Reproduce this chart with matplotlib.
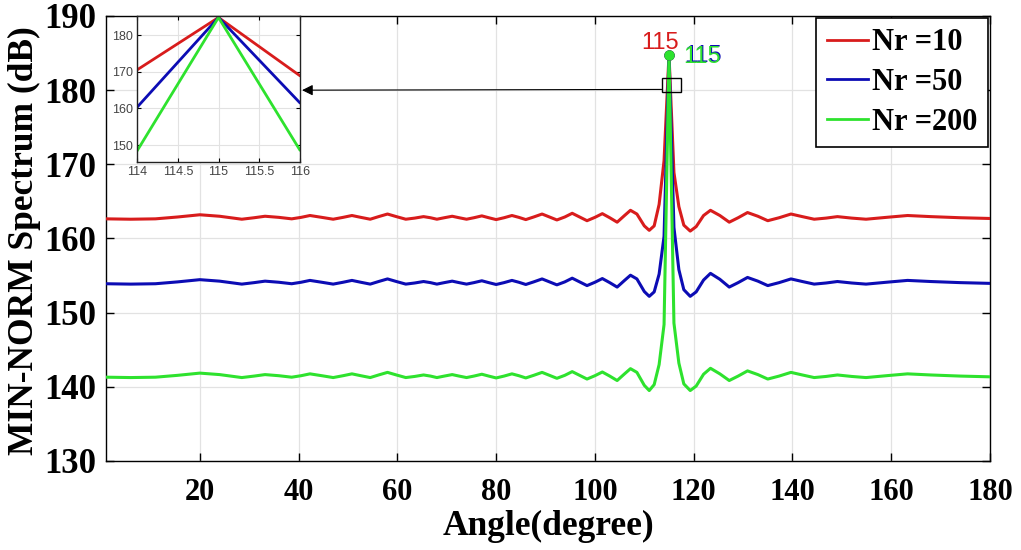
import matplotlib
matplotlib.use("Agg")
import matplotlib.pyplot as plt
from matplotlib.patches import Rectangle

# ---------------- data ----------------
angles = [1, 6, 11, 15.5, 20, 24, 28.5, 31, 33.2, 36,
          38.6, 40.5, 42.3, 44.7, 47, 49, 50.8, 52.6, 54.5, 56.2,
          58, 59.8, 61.7, 63.5, 65.3, 66.7, 68, 69.5, 71.1, 72.5,
          74, 75.5, 77.1, 78.5, 80, 81.6, 83.2, 84.6, 86, 87.6,
          89.3, 90.8, 92.3, 93.9, 95.4, 96.9, 98.4, 100, 101.5, 103,
          104.5, 106, 107.2, 108.5, 110, 111, 112, 113, 114, 115,
          116, 117, 118, 119.3, 120.5, 122, 123.4, 125.3, 127.2, 129,
          130.9, 133, 135, 137.3, 139.7, 142, 144.4, 146.8, 149.1, 152,
          154.9, 159, 163.3, 168, 174, 180]

nr10 = [162.65, 162.6, 162.65, 162.9, 163.2, 163.0, 162.6, 162.8, 163.0, 162.85,
        162.65, 162.85, 163.1, 162.85, 162.6, 162.85, 163.1, 162.85, 162.6, 162.95,
        163.3, 162.95, 162.6, 162.75, 162.95, 162.8, 162.6, 162.8, 163.0, 162.8,
        162.6, 162.8, 163.05, 162.8, 162.55, 162.8, 163.1, 162.85, 162.55, 162.9,
        163.3, 162.9, 162.5, 162.9, 163.4, 162.9, 162.4, 162.85, 163.35, 162.8,
        162.2, 163.1, 163.8, 163.3, 161.7, 161.1, 161.7, 164.6, 170.5, 184.8,
        168.9, 164.3, 161.8, 161.0, 161.6, 163.1, 163.8, 163.1, 162.2, 162.8,
        163.5, 163.0, 162.4, 162.8, 163.3, 162.95, 162.6, 162.75, 162.95, 162.75,
        162.6, 162.85, 163.1, 162.95, 162.8, 162.7]

nr50 = [153.90, 153.85, 153.90, 154.15, 154.45, 154.25, 153.85, 154.05, 154.25, 154.10,
        153.90, 154.10, 154.35, 154.10, 153.85, 154.10, 154.35, 154.10, 153.85, 154.20,
        154.55, 154.20, 153.85, 154.00, 154.20, 154.05, 153.85, 154.05, 154.25, 154.05,
        153.85, 154.05, 154.30, 154.05, 153.80, 154.05, 154.35, 154.10, 153.80, 154.15,
        154.55, 154.15, 153.75, 154.15, 154.65, 154.15, 153.65, 154.10, 154.60, 154.05,
        153.45, 154.35, 155.05, 154.55, 152.85, 152.2, 152.8, 155.2, 160.3, 184.8,
        161.5, 155.8, 153.1, 152.2, 152.8, 154.4, 155.3, 154.5, 153.45, 154.05,
        154.75, 154.25, 153.65, 154.05, 154.55, 154.2, 153.85, 154.0, 154.2, 154.0,
        153.85, 154.1, 154.35, 154.2, 154.05, 153.95]

nr200 = [141.30, 141.25, 141.30, 141.55, 141.85, 141.65, 141.25, 141.45, 141.65, 141.50,
         141.30, 141.50, 141.75, 141.50, 141.25, 141.50, 141.75, 141.50, 141.25, 141.60,
         141.95, 141.60, 141.25, 141.40, 141.60, 141.45, 141.25, 141.45, 141.65, 141.45,
         141.25, 141.45, 141.70, 141.45, 141.20, 141.45, 141.75, 141.50, 141.20, 141.55,
         141.95, 141.55, 141.15, 141.55, 142.05, 141.55, 141.05, 141.50, 142.00, 141.45,
         140.85, 141.75, 142.45, 141.95, 140.2, 139.5, 140.3, 143.0, 148.4, 184.8,
         148.6, 143.2, 140.4, 139.5, 140.1, 141.7, 142.5, 141.75, 140.85, 141.45,
         142.15, 141.65, 141.05, 141.45, 141.95, 141.6, 141.25, 141.4, 141.6, 141.4,
         141.25, 141.5, 141.75, 141.6, 141.45, 141.35]

labels = ["Nr =10", "Nr =50", "Nr =200"]
peak_angle = 115
peak_value = 184.8

x_ticks = [20, 40, 60, 80, 100, 120, 140, 160, 180]
y_ticks = [130, 140, 150, 160, 170, 180, 190]
inset_xticks = [114, 114.5, 115, 115.5, 116]
inset_xticklabels = ["114", "114.5", "115", "115.5", "116"]
inset_yticks = [150, 160, 170, 180]

colors = ["#d81c1c", "#0c0cb4", "#2ee22e"]
series = [nr10, nr50, nr200]

# ---------------- figure ----------------
fig = plt.figure(figsize=(10.21, 5.5), dpi=100)
ax = fig.add_axes([106 / 1021, (550 - 461) / 550, 884 / 1021, 445 / 550])

serif = "Liberation Serif"
sans = "Liberation Sans"

for vals, c, lab in zip(series, colors, labels):
    ax.plot(angles, vals, color=c, lw=2.2, label=lab, zorder=3,
            solid_joinstyle="round")

# peak markers
for c in colors:
    ax.plot([peak_angle], [peak_value], "o", color=c, ms=6.5, zorder=4)

ax.set_xlim(1, 180)
ax.set_ylim(130, 190)
ax.set_xticks(x_ticks)
ax.set_yticks(y_ticks)
ax.grid(True, color="#e2e2e2", lw=0.9, zorder=0)
ax.set_axisbelow(True)
ax.tick_params(direction="in", length=6, width=1, top=True, right=True)
ax.tick_params(axis="x", labelsize=22, pad=12)
ax.tick_params(axis="y", labelsize=25, pad=7)
for lbl in ax.get_xticklabels() + ax.get_yticklabels():
    lbl.set_fontfamily(serif)
    lbl.set_fontweight("bold")
for sp in ax.spines.values():
    sp.set_linewidth(1.0)
    sp.set_color("black")

ax.set_xlabel("Angle(degree)", fontsize=25.5, fontweight="bold", family=serif,
              va="center")
ax.xaxis.set_label_coords(0.5, -65 / 445)
ax.set_ylabel("MIN-NORM Spectrum (dB)", fontsize=25.5, fontweight="bold",
              family=serif, va="center")
ax.yaxis.set_label_coords((24 - 106) / 884, 0.495)

# peak labels
ax.text(113.1, 186.3, "115", color=colors[0], fontsize=17, family=sans,
        ha="center", va="center", zorder=5)
ax.text(121.85, 184.6, "115", color=colors[1], fontsize=17, family=sans,
        ha="center", va="center", zorder=5)
ax.text(121.7, 184.45, "115", color=colors[2], fontsize=17, family=sans,
        ha="center", va="center", zorder=6)

# zoom rectangle and arrow
ax.add_patch(Rectangle((113.5, 179.8), 3.9, 1.8, fill=False, ec="black",
                       lw=1.0, zorder=6))
ax.annotate("", xy=(40.7, 180.0), xytext=(113.5, 180.1),
            arrowprops=dict(arrowstyle="-|>", color="black", lw=0.8,
                            mutation_scale=16, shrinkA=0, shrinkB=0),
            zorder=6)

leg = ax.legend(loc="upper right", bbox_to_anchor=(1.0, 1.0),
                borderaxespad=0.05, fancybox=False, framealpha=1,
                edgecolor="black", handlelength=1.35, handletextpad=0.15,
                labelspacing=0.35, borderpad=0.35,
                prop=dict(family=serif, weight="bold", size=22))
leg.get_frame().set_linewidth(1.2)
for h in leg.get_lines():
    h.set_linewidth(2.0)

# ---------------- inset ----------------
ins = fig.add_axes([137 / 1021, (550 - 162) / 550, 163 / 1021, 146 / 550])
for vals, c in zip(series, colors):
    ins.plot(angles, vals, color=c, lw=2.0)
ins.set_xlim(114, 116)
ins.set_ylim(145.4, 185.2)
ins.set_xticks(inset_xticks)
ins.set_xticklabels(inset_xticklabels)
ins.set_yticks(inset_yticks)
ins.grid(True, color="#e2e2e2", lw=0.8)
ins.tick_params(direction="in", length=3, labelsize=9, labelcolor="#444444",
                pad=3, top=True, right=True)
for lbl in ins.get_xticklabels() + ins.get_yticklabels():
    lbl.set_fontfamily(sans)
for sp in ins.spines.values():
    sp.set_linewidth(1.0)
    sp.set_color("#222222")

fig.savefig("out.png", dpi=100)
